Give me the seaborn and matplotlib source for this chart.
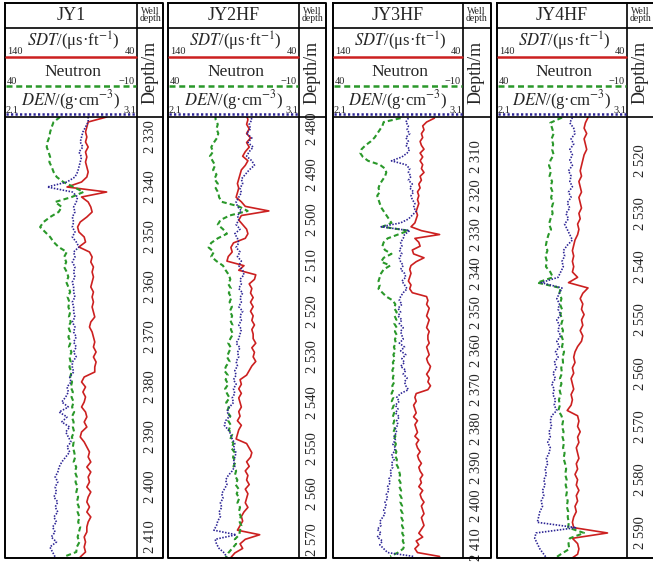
import matplotlib.pyplot as plt
import seaborn as sns
import numpy as np

sns.set_style("white")
plt.rcParams['font.family'] = ['Liberation Serif', 'DejaVu Serif']
plt.rcParams['mathtext.fontset'] = 'stix'

# ----------------------------------------------------------
# data: log readings every 1 m from the first depth
# ----------------------------------------------------------
WELLS = ['JY1', 'JY2HF', 'JY3HF', 'JY4HF']
FIRST_DEPTH = [2326, 2477, 2300, 2512]
DEPTH_RANGE = [(2326.0, 2414.2), (2477.4, 2574.1), (2299.7, 2413.4), (2511.9, 2594.7)]
DEPTH_TICKS = [list(range(2330, 2411, 10)), list(range(2480, 2571, 10)),
               list(range(2310, 2411, 10)), list(range(2520, 2591, 10))]

JY1_SDT = [63, 77, 78, 79, 78, 79, 77, 79, 78, 79,
           78, 77, 78, 82, 93, 63, 82, 77, 75, 74,
           78, 83, 85, 84, 80, 79, 84, 76, 74, 75,
           73, 74, 73, 74, 75, 73, 74, 73, 74, 73,
           72, 75, 76, 74, 73, 72, 73, 71, 73, 71,
           72, 72, 80, 82, 79, 81, 79, 80, 82, 79,
           78, 80, 78, 82, 83, 80, 78, 76, 77, 75,
           78, 75, 77, 76, 78, 75, 77, 78, 76, 78,
           75, 77, 78, 78, 80, 79, 80, 79, 83]
JY1_DEN = [2.73, 2.73, 2.71, 2.69, 2.68, 2.67, 2.69, 2.66, 2.68, 2.67,
           2.66, 2.65, 2.63, 2.57, 2.42, 2.61, 2.65, 2.64, 2.62, 2.63,
           2.61, 2.62, 2.61, 2.63, 2.61, 2.64, 2.66, 2.62, 2.63, 2.61,
           2.63, 2.62, 2.63, 2.61, 2.62, 2.62, 2.63, 2.61, 2.62, 2.62,
           2.63, 2.61, 2.63, 2.62, 2.64, 2.62, 2.64, 2.62, 2.64, 2.61,
           2.61, 2.62, 2.59, 2.60, 2.57, 2.58, 2.56, 2.53, 2.58, 2.51,
           2.57, 2.53, 2.59, 2.56, 2.58, 2.60, 2.57, 2.59, 2.56, 2.53,
           2.51, 2.50, 2.48, 2.50, 2.48, 2.49, 2.47, 2.50, 2.48, 2.50,
           2.47, 2.49, 2.46, 2.48, 2.45, 2.49, 2.44, 2.46, 2.48]
JY1_CNL = [19.1, 21.6, 22.3, 22.9, 23.2, 23.9, 24.2, 23.5, 22.9, 23.2,
           22.3, 21.6, 20.4, 17.9, 14.0, 10.3, 14.7, 21.0, 18.5, 19.7,
           22.9, 25.4, 26.7, 24.8, 22.9, 21.6, 19.7, 16.6, 17.6, 16.8,
           17.6, 16.6, 16.0, 16.8, 16.0, 15.3, 16.3, 15.6, 16.0, 15.3,
           15.8, 15.1, 16.0, 15.3, 16.0, 15.1, 15.8, 14.8, 15.6, 15.1,
           15.6, 14.8, 15.3, 14.6, 15.1, 14.3, 14.8, 14.0, 14.6, 13.8,
           14.7, 14.0, 14.3, 13.8, 14.7, 14.0, 14.3, 13.8, 13.4, 14.0,
           13.0, 13.5, 12.8, 13.3, 12.5, 13.0, 12.3, 12.8, 12.0, 12.5,
           11.8, 12.3, 11.5, 12.0, 12.5, 11.8, 12.8, 13.0, 17.9]

JY2_SDT = [80,
           79, 80, 78, 80, 77, 80, 78, 81, 83, 79,
           81, 84, 85, 86, 87, 86, 87, 88, 84, 81,
           63, 84, 86, 83, 80, 79, 81, 90, 92, 91,
           94, 95, 82, 86, 73, 74, 78, 76, 77, 75,
           77, 75, 77, 75, 76, 74, 76, 75, 75, 73,
           76, 74, 75, 73, 76, 78, 80, 85, 84, 86,
           84, 86, 85, 84, 86, 85, 87, 84, 86, 87,
           88, 80, 78, 76, 77, 80, 78, 81, 79, 80,
           78, 81, 79, 80, 81, 79, 82, 84, 83, 85,
           87, 70, 81, 85, 83, 89, 92]
JY2_DEN = [2.73,
           2.74, 2.72, 2.73, 2.70, 2.74, 2.71, 2.75, 2.72, 2.70, 2.74,
           2.76, 2.72, 2.69, 2.66, 2.67, 2.65, 2.66, 2.64, 2.62, 2.63,
           2.66, 2.63, 2.64, 2.62, 2.65, 2.61, 2.63, 2.64, 2.62, 2.65,
           2.63, 2.66, 2.64, 2.67, 2.68, 2.65, 2.66, 2.64, 2.67, 2.65,
           2.66, 2.64, 2.67, 2.65, 2.66, 2.64, 2.66, 2.65, 2.64, 2.62,
           2.65, 2.63, 2.64, 2.62, 2.63, 2.61, 2.62, 2.60, 2.62, 2.60,
           2.61, 2.59, 2.60, 2.57, 2.55, 2.57, 2.54, 2.53, 2.56, 2.58,
           2.59, 2.61, 2.60, 2.62, 2.61, 2.60, 2.61, 2.59, 2.56, 2.54,
           2.55, 2.53, 2.51, 2.52, 2.50, 2.51, 2.49, 2.50, 2.48, 2.47,
           2.45, 2.62, 2.46, 2.47, 2.49, 2.53, 2.55]
JY2_CNL = [22.0,
           21.8, 21.0, 21.5, 20.8, 21.3, 22.5, 23.5, 22.8, 24.0, 23.0,
           22.0, 22.8, 21.5, 22.3, 21.0, 21.8, 20.8, 20.5, 19.5, 13.0,
           9.6, 16.5, 20.0, 21.0, 19.0, 17.5, 21.0, 23.5, 24.5, 22.5,
           23.5, 21.5, 19.0, 18.0, 16.8, 16.2, 17.0, 16.0, 16.8, 15.8,
           16.5, 15.6, 16.4, 15.5, 16.2, 15.4, 16.0, 15.2, 16.2, 17.0,
           16.0, 16.8, 17.5, 16.5, 17.8, 18.5, 17.2, 18.0, 17.0, 18.2,
           17.5, 16.5, 17.8, 16.8, 17.5, 16.2, 17.0, 16.0, 16.8, 15.5,
           16.2, 15.0, 15.8, 14.5, 15.2, 14.2, 15.0, 14.0, 14.5, 13.5,
           14.2, 13.0, 13.8, 12.8, 13.5, 12.5, 13.0, 12.2, 12.8, 12.0,
           12.5, 12.8, 14.5, 14.0, 15.5, 17.0, 18.0]

JY3_SDT = [62, 68, 71, 70, 72, 71, 73, 72, 70, 73,
           71, 73, 71, 72, 70, 73, 72, 74, 73, 75,
           74, 75, 74, 75, 76, 75, 76, 77, 80, 72,
           58, 77, 74, 73, 79, 78, 70, 76, 80, 81,
           80, 81, 82, 80, 81, 79, 68, 67, 68, 66,
           67, 68, 66, 67, 68, 66, 67, 67, 66, 68,
           67, 66, 68, 67, 65, 66, 68, 66, 67, 65,
           67, 76, 77, 76, 78, 77, 76, 78, 75, 77,
           76, 75, 77, 74, 76, 75, 73, 75, 74, 72,
           74, 73, 71, 73, 72, 74, 71, 73, 72, 70,
           72, 71, 70, 72, 71, 70, 72, 74, 71, 76,
           74, 77, 75, 58]
JY3_DEN = [2.68, 2.66, 2.68, 2.67, 2.69, 2.66, 2.68, 2.66, 2.69, 2.67,
           2.63, 2.55, 2.66, 2.69, 2.68, 2.70, 2.68, 2.71, 2.69, 2.72,
           2.70, 2.71, 2.73, 2.72, 2.74, 2.71, 2.68, 2.62, 2.47, 2.69,
           2.65, 2.64, 2.62, 2.63, 2.61, 2.63, 2.61, 2.62, 2.64, 2.62,
           2.65, 2.66, 2.63, 2.65, 2.67, 2.64, 2.62, 2.61, 2.63, 2.60,
           2.62, 2.60, 2.63, 2.61, 2.64, 2.62, 2.63, 2.64, 2.61, 2.65,
           2.62, 2.66, 2.63, 2.65, 2.62, 2.66, 2.64, 2.67, 2.65, 2.66,
           2.68, 2.62, 2.59, 2.61, 2.58, 2.60, 2.58, 2.61, 2.59, 2.60,
           2.58, 2.59, 2.57, 2.58, 2.56, 2.58, 2.57, 2.55, 2.57, 2.55,
           2.56, 2.54, 2.55, 2.53, 2.54, 2.52, 2.53, 2.51, 2.52, 2.50,
           2.51, 2.49, 2.50, 2.48, 2.46, 2.47, 2.44, 2.47, 2.44, 2.48,
           2.46, 2.49, 2.52, 2.72]
JY3_CNL = [14.0, 20.5, 21.0, 22.0, 23.0, 24.0, 25.5, 27.5, 29.0, 29.5,
           28.5, 26.5, 22.0, 20.0, 19.5, 20.0, 21.0, 22.0, 22.5, 22.0,
           23.0, 22.5, 22.0, 21.5, 20.5, 19.5, 18.5, 17.5, 21.0, 11.0,
           15.0, 19.0, 20.5, 21.0, 20.0, 17.5, 20.5, 21.5, 18.0, 20.5,
           21.5, 22.0, 22.5, 22.0, 22.5, 21.0, 19.5, 17.0, 16.0, 16.5,
           15.5, 16.3, 15.6, 16.4, 15.5, 16.2, 15.4, 16.2, 15.8, 16.6,
           16.0, 16.8, 16.2, 17.0, 16.5, 17.2, 16.6, 17.0, 16.4, 17.2,
           16.8, 17.5, 16.8, 17.4, 16.6, 17.2, 16.5, 17.0, 16.4, 16.9,
           16.2, 16.8, 16.0, 16.6, 15.8, 16.4, 15.6, 16.2, 15.4, 15.8,
           15.0, 14.6, 14.2, 14.8, 14.0, 14.5, 13.8, 14.3, 13.6, 14.1,
           13.4, 13.9, 13.2, 13.7, 13.0, 13.5, 12.8, 13.4, 12.6, 13.2,
           12.5, 13.0, 15.0, 18.0]

JY4_SDT = [70, 72, 73, 71, 73, 72, 71, 73, 74, 75,
           76, 75, 77, 76, 75, 77, 76, 75, 77, 76,
           78, 77, 78, 80, 81, 82, 81, 82, 81, 82,
           78, 85, 70, 74, 76, 74, 75, 73, 75, 74,
           76, 74, 75, 78, 80, 81, 80, 82, 81, 83,
           82, 81, 83, 82, 83, 86, 78, 77, 78, 76,
           78, 77, 79, 78, 77, 79, 78, 80, 78, 79,
           77, 79, 78, 80, 79, 81, 82, 81, 55, 82,
           78, 77, 78, 84]
JY4_DEN = [2.68, 2.66, 2.69, 2.70, 2.67, 2.69, 2.66, 2.68, 2.66, 2.68,
           2.65, 2.67, 2.66, 2.68, 2.65, 2.67, 2.64, 2.66, 2.63, 2.65,
           2.62, 2.64, 2.66, 2.68, 2.64, 2.61, 2.62, 2.60, 2.61, 2.59,
           2.57, 2.44, 2.60, 2.58, 2.56, 2.58, 2.57, 2.59, 2.56, 2.58,
           2.57, 2.59, 2.56, 2.58, 2.55, 2.57, 2.54, 2.56, 2.53, 2.55,
           2.52, 2.54, 2.53, 2.55, 2.54, 2.56, 2.52, 2.51, 2.52, 2.50,
           2.51, 2.49, 2.51, 2.50, 2.48, 2.49, 2.47, 2.48, 2.46, 2.47,
           2.45, 2.46, 2.44, 2.45, 2.43, 2.42, 2.41, 2.71, 2.40, 2.39,
           2.41, 2.43, 2.46, 2.49]
JY4_CNL = [15.0, 19.5, 18.8, 18.2, 19.0, 18.4, 18.8, 18.2, 19.4, 20.0,
           19.2, 19.8, 18.8, 19.4, 18.6, 19.2, 18.4, 19.0, 18.6, 19.4,
           20.0, 19.2, 20.2, 20.8, 21.2, 20.6, 21.4, 20.8, 21.2, 19.5,
           18.5, 24.5, 15.5, 16.0, 15.2, 15.8, 15.0, 15.6, 14.8, 15.4,
           14.6, 15.2, 14.5, 15.0, 14.2, 14.8, 14.6, 15.3, 15.0, 15.8,
           15.2, 16.0, 15.5, 16.2, 15.8, 16.4, 15.2, 14.6, 15.0, 14.4,
           14.8, 14.2, 14.6, 14.0, 14.4, 13.8, 13.4, 13.8, 13.2, 13.6,
           13.0, 13.4, 12.8, 13.2, 12.6, 12.8, 12.4, 12.6, 6.5, 12.0,
           12.5, 12.2, 15.5, 18.5]

SDT = [JY1_SDT, JY2_SDT, JY3_SDT, JY4_SDT]
DEN = [JY1_DEN, JY2_DEN, JY3_DEN, JY4_DEN]
CNL = [JY1_CNL, JY2_CNL, JY3_CNL, JY4_CNL]

# ----------------------------------------------------------
# layout (pixels of a 653x564 picture)
# ----------------------------------------------------------
W, H = 653, 564
PANEL_X = [5, 168, 333, 497]
LOG_W = [132, 131, 130, 130]
DEPTH_W = [26, 27, 28, 34]
Y_TOP, Y_TITLE, Y_SDT, Y_CNL, Y_DEN, Y_LOG, Y_BOT = 3, 28, 57, 86, 114, 117, 558

RED = '#cc2020'
GREEN = '#2a982a'
BLUE = '#2c2494'
DOTS = (0.9, 0.9)
DASHES = (2.4, 1.5)


def frac(x, y, w, h):
    return [x / W, 1 - (y + h) / H, w / W, h / H]


def depths(i, vals):
    return np.arange(FIRST_DEPTH[i], FIRST_DEPTH[i] + len(vals))


fig = plt.figure(figsize=(W / 100, H / 100), dpi=100)

for i, name in enumerate(WELLS):
    x0, lw = PANEL_X[i], LOG_W[i]
    xr = x0 + lw
    top, bot = DEPTH_RANGE[i]

    # log track: three curves with their own x scales
    ax = fig.add_axes(frac(x0, Y_LOG, lw, Y_BOT - Y_LOG))
    ax_cnl = ax.twiny()
    ax_den = ax.twiny()
    sns.lineplot(x=DEN[i], y=depths(i, DEN[i]), ax=ax_den, orient='y', estimator=None,
                 color=BLUE, linewidth=1.2)
    ax_den.lines[-1].set_dashes(DOTS)
    sns.lineplot(x=CNL[i], y=depths(i, CNL[i]), ax=ax_cnl, orient='y', estimator=None,
                 color=GREEN, linewidth=1.5)
    ax_cnl.lines[-1].set_dashes(DASHES)
    sns.lineplot(x=SDT[i], y=depths(i, SDT[i]), ax=ax, orient='y', estimator=None,
                 color=RED, linewidth=1.2)
    ax.set_xlim(140, 40)
    ax_cnl.set_xlim(40, -10)
    ax_den.set_xlim(2.1, 3.1)
    ax.set_ylim(bot, top)
    for a in (ax, ax_cnl, ax_den):
        a.axis('off')

    # depth column
    axd = fig.add_axes(frac(xr, Y_LOG, DEPTH_W[i], Y_BOT - Y_LOG))
    axd.set_facecolor('none')
    axd.set_ylim(bot, top)
    axd.set_xlim(0, 1)
    axd.set_xticks([])
    axd.set_yticks(DEPTH_TICKS[i])
    axd.tick_params(axis='y', direction='in', length=4, width=0.8, labelleft=False)
    for s in axd.spines.values():
        s.set_visible(False)
    for t in DEPTH_TICKS[i]:
        axd.text(14 / DEPTH_W[i], t, f'{t // 1000} {t % 1000:03d}',
                 transform=axd.get_yaxis_transform(), rotation=90,
                 ha='center', va='center', fontsize=10.5)

# frames and headers
ov = fig.add_axes([0, 0, 1, 1])
ov.set_xlim(0, W)
ov.set_ylim(H, 0)
ov.axis('off')
for i, name in enumerate(WELLS):
    x0, lw = PANEL_X[i], LOG_W[i]
    xr = x0 + lw
    xd = xr + DEPTH_W[i]
    xc = x0 + lw / 2
    ov.plot([x0, xd, xd, x0, x0], [Y_TOP, Y_TOP, Y_BOT, Y_BOT, Y_TOP], color='k', lw=1.4)
    ov.plot([xr, xr], [Y_TOP, Y_BOT], color='k', lw=1.2)
    ov.plot([x0, xd], [Y_TITLE, Y_TITLE], color='k', lw=1.2)
    ov.plot([x0, xd], [Y_LOG, Y_LOG], color='k', lw=1.2)
    ov.plot([x0 + 1, xr - 1], [Y_SDT, Y_SDT], color=RED, lw=1.8)
    ov.plot([x0 + 1, xr - 1], [Y_CNL, Y_CNL], color=GREEN, lw=1.8, dashes=DASHES)
    ov.plot([x0 + 1, xr - 1], [Y_DEN, Y_DEN], color=BLUE, lw=1.8, dashes=DOTS)

    ov.text(xc, 16, name, ha='center', va='center', fontsize=13)
    ov.text(xc + 2, 41, r'$SDT$/(μs·ft$^{-1}$)', ha='center', va='center', fontsize=12)
    ov.text(x0 + 2, 52, '140', ha='left', va='center', fontsize=7.5)
    ov.text(xr - 2, 52, '40', ha='right', va='center', fontsize=7.5)
    ov.text(xc + 2, 72, 'Neutron', ha='center', va='center', fontsize=12.5)
    ov.text(x0 + 2, 81, '40', ha='left', va='center', fontsize=7.5)
    ov.text(xr - 2, 81, '\u221210', ha='right', va='center', fontsize=7.5)
    ov.text(xc, 100, r'$DEN$/(g·cm$^{-3}$)', ha='center', va='center', fontsize=12)
    ov.text(x0 + 1, 110.5, '2.1', ha='left', va='center', fontsize=7.5)
    ov.text(xr - 1, 110.5, '3.1', ha='right', va='center', fontsize=7.5)
    ov.text(xr + 13, 15, 'Well\ndepth', ha='center', va='center', fontsize=7,
            linespacing=0.8)
    ov.text(xr + 13, 72, 'Depth/m', ha='center', va='center', rotation=90, fontsize=13)

fig.savefig('out.png', dpi=100)
